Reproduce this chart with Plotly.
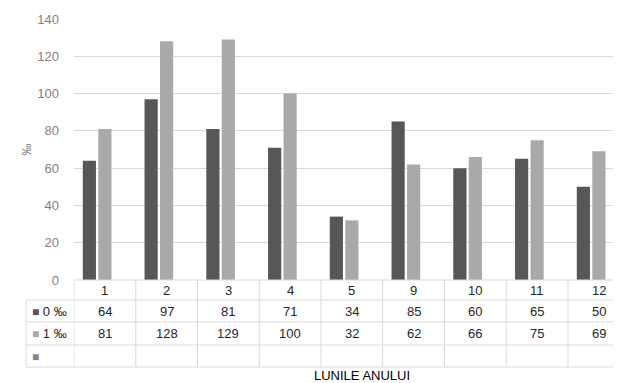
import plotly.graph_objects as go

months = ["1", "2", "3", "4", "5", "9", "10", "11", "12"]
series_names = ["0 ‰", "1 ‰", ""]
values_0 = [64, 97, 81, 71, 34, 85, 60, 65, 50]
values_1 = [81, 128, 129, 100, 32, 62, 66, 75, 69]
values_2 = [None] * len(months)
colors = ["#575757", "#a9a9a9", "#858585"]
y_ticks = [0, 20, 40, 60, 80, 100, 120, 140]

# page body has a default 8px margin; compensate
OFF = 8
W, H = 621 - OFF, 383 - OFF
ml, mr, mt = 74 - OFF, 0, 19 - OFF
mb = H - (280 - OFF)
plot_w = W - ml - mr
plot_h = H - mt - mb
col_px = 61.75
x_end = -0.5 + plot_w / col_px

all_series = [values_0, values_1, values_2]

fig = go.Figure()
for name, vals, col in zip(series_names, all_series, colors):
    fig.add_trace(go.Bar(x=list(range(len(months))), y=vals, name=name,
                         marker=dict(color=col, line=dict(width=0)),
                         showlegend=False))

grid_col = "#d9d9d9"
font_fam = "Liberation Sans, Arial, sans-serif"

def py(px):
    # reference pixel y (from top) -> paper y
    return (280 - px) / plot_h

def pxp(px):
    return (px - 74) / plot_w

row_edges = [280, 300, 322, 345, 367]
label_left = pxp(26)

shapes = []
for i, ry in enumerate(row_edges):
    x0 = 0 if i == 0 else label_left
    shapes.append(dict(type="line", xref="paper", yref="paper", x0=x0, x1=1,
                       y0=py(ry), y1=py(ry), line=dict(color=grid_col, width=1)))
for k in range(len(months) + 1):
    shapes.append(dict(type="line", xref="x", yref="paper", x0=k - 0.5, x1=k - 0.5,
                       y0=py(row_edges[0]), y1=py(row_edges[-1]),
                       line=dict(color=grid_col, width=1)))
shapes.append(dict(type="line", xref="paper", yref="paper", x0=label_left, x1=label_left,
                   y0=py(row_edges[1]), y1=py(row_edges[-1]), line=dict(color=grid_col, width=1)))

annotations = []
row_centers = [(row_edges[i] + row_edges[i + 1]) / 2 for i in range(4)]
txt_font = dict(family=font_fam, size=13, color="#262626")
for k, m in enumerate(months):
    annotations.append(dict(x=k, y=py(row_centers[0]), xref="x", yref="paper", text=m,
                            xanchor="center", yanchor="middle",
                            showarrow=False, font=txt_font))
    for r, vals in enumerate([values_0, values_1]):
        annotations.append(dict(x=k, y=py(row_centers[r + 1]), xref="x", yref="paper",
                                text=str(vals[k]), xanchor="center", yanchor="middle",
                                showarrow=False, font=txt_font))
for r, (name, col) in enumerate(zip(series_names, colors)):
    annotations.append(dict(x=pxp(30), y=py(row_centers[r + 1]), xref="paper", yref="paper",
                            xanchor="left", yanchor="middle",
                            text=f'<span style="color:{col};font-size:12px">■</span> {name}',
                            showarrow=False, font=txt_font))
annotations.append(dict(x=pxp(362), y=py(375), xref="paper", yref="paper",
                        xanchor="center", yanchor="middle",
                        text="LUNILE ANULUI", showarrow=False,
                        font=dict(family=font_fam, size=13, color="#000000")))

fig.update_layout(
    width=W, height=H,
    margin=dict(l=ml, r=mr, t=mt, b=mb, autoexpand=False),
    paper_bgcolor="white", plot_bgcolor="white",
    barmode="group", bargap=0.247, bargroupgap=0.15,
    font=dict(family=font_fam),
    shapes=shapes, annotations=annotations,
    xaxis=dict(range=[-0.5, x_end], showticklabels=False, showgrid=False,
               zeroline=False, showline=False, ticks=""),
    yaxis=dict(range=[0, 140], tickvals=y_ticks, showgrid=True, gridcolor=grid_col,
               gridwidth=1, zeroline=False, showline=False, ticks="",
               ticklabelstandoff=14,
               tickfont=dict(family=font_fam, size=13, color="#7f7f7f"),
               title=dict(text="‰", standoff=3,
                          font=dict(family=font_fam, size=12, color="#7f7f7f"))),
)

fig.write_html("out.html")
